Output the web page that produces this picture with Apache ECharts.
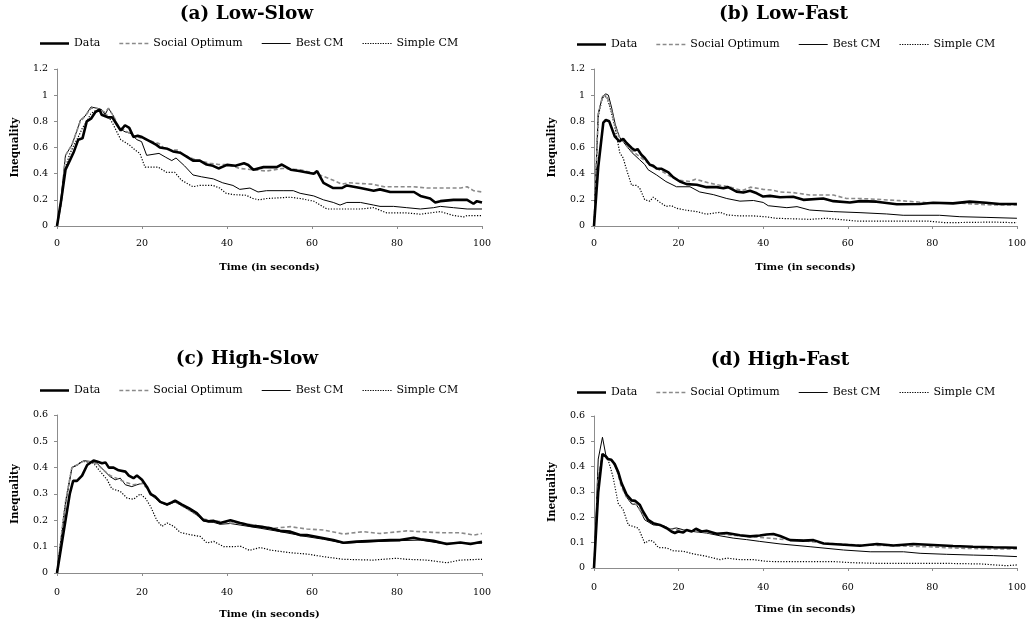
<!DOCTYPE html>
<html>
<head>
<meta charset="utf-8">
<script src="https://cdn.jsdelivr.net/npm/echarts@6/dist/echarts.min.js"></script>
<style>html,body{margin:0;padding:0;background:#fff}#c{width:1029px;height:627px}</style>
</head>
<body>
<div id="c"></div>
<script>
// ---------- DATA: [time (s), inequality] ----------
const seriesNames = ['Data', 'Social Optimum', 'Best CM', 'Simple CM'];
const panelTitles = ['(a) Low-Slow', '(b) Low-Fast', '(c) High-Slow', '(d) High-Fast'];
const xTicks = [0, 20, 40, 60, 80, 100];
const yMaxTop = 1.2, yStepTop = 0.2, yMaxBottom = 0.6, yStepBottom = 0.1;

// (a) Low-Slow
const aData = [[0,0],[1,0.2],[2,0.43],[3,0.5],[4,0.57],[5,0.66],[6,0.67],[7,0.8],[8,0.82],[9,0.87],[10,0.89],[10.5,0.85],[12,0.83],[13,0.83],[14,0.78],[15,0.73],[16,0.77],[17,0.75],[18,0.68],[19,0.69],[20,0.68],[22,0.645],[23.4,0.62],[24.2,0.6],[26,0.59],[27.3,0.57],[29,0.56],[30.5,0.53],[32,0.5],[33.6,0.5],[35.2,0.47],[36.7,0.46],[38,0.44],[40,0.467],[42,0.46],[44,0.48],[45,0.466],[46.2,0.43],[48.6,0.45],[51.7,0.45],[52.9,0.47],[55,0.43],[57,0.42],[60.4,0.40],[61.2,0.42],[62.7,0.33],[65,0.29],[67,0.29],[68.2,0.31],[71.4,0.29],[74.5,0.27],[76,0.28],[78.4,0.26],[80.7,0.26],[84,0.26],[85.5,0.23],[87.8,0.21],[89,0.18],[90.2,0.19],[93.3,0.2],[96.5,0.2],[98,0.17],[98.8,0.19],[100,0.18]];
const aSocial = [[0,0],[1,0.17],[2,0.54],[3.5,0.62],[4.7,0.73],[5.5,0.8],[6.6,0.84],[8,0.9],[9.4,0.9],[10.5,0.88],[11.3,0.87],[12.1,0.9],[13.3,0.84],[14.5,0.76],[16,0.73],[18,0.69],[20,0.67],[22,0.65],[24,0.63],[25,0.6],[27,0.58],[28.5,0.58],[30,0.54],[33,0.5],[36,0.48],[38,0.47],[40,0.47],[43,0.44],[46,0.43],[49.3,0.42],[53,0.44],[57.2,0.43],[61,0.40],[65,0.35],[67,0.32],[68.7,0.33],[74,0.32],[77,0.30],[83.9,0.30],[87,0.29],[95,0.29],[96.5,0.30],[98,0.27],[100,0.26]];
const aBest = [[0,0],[0.8,0.17],[2,0.54],[3.5,0.62],[4.7,0.73],[5.5,0.81],[6.6,0.84],[8,0.91],[9.4,0.9],[10.5,0.89],[11.3,0.85],[12.1,0.9],[13.3,0.84],[14.5,0.75],[16,0.72],[17.2,0.71],[18.8,0.66],[19.9,0.645],[21.1,0.54],[24,0.555],[25.6,0.525],[27,0.5],[28,0.52],[30,0.46],[32,0.39],[34,0.376],[36.8,0.36],[39,0.33],[41.4,0.31],[43,0.28],[45.4,0.29],[47.3,0.26],[49.3,0.27],[53.2,0.27],[55.6,0.27],[57.2,0.25],[60.4,0.23],[62.7,0.2],[65,0.18],[66.6,0.16],[68.2,0.18],[71.4,0.18],[74.5,0.16],[76,0.15],[79.2,0.15],[82.3,0.14],[85.5,0.13],[88.6,0.14],[90.2,0.15],[93.3,0.14],[96.5,0.13],[100,0.13]];
const aSimple = [[0,0],[1,0.18],[2,0.45],[3,0.55],[4,0.62],[5,0.68],[6,0.75],[7,0.8],[8,0.86],[9,0.88],[10,0.89],[11,0.87],[12,0.84],[13,0.79],[15,0.66],[17,0.62],[18.4,0.58],[19.5,0.555],[20.7,0.45],[22.6,0.45],[23.8,0.45],[25.8,0.41],[27.7,0.41],[29.3,0.35],[32,0.3],[33.6,0.31],[36.7,0.31],[38.3,0.29],[39.8,0.25],[41.4,0.24],[44.5,0.235],[46.1,0.21],[47.6,0.2],[49.3,0.21],[54.9,0.22],[57.2,0.21],[60.4,0.19],[63.5,0.13],[66.6,0.13],[71.4,0.13],[74.5,0.14],[77.6,0.1],[82.3,0.1],[85.5,0.09],[87.8,0.1],[90.2,0.11],[93.3,0.08],[95.7,0.07],[96.5,0.08],[100,0.08]];

// (b) Low-Fast
const bData = [[0,0],[1,0.45],[2.2,0.79],[2.8,0.81],[3.6,0.8],[4.9,0.685],[6,0.647],[6.9,0.667],[7.7,0.634],[8.9,0.596],[9.7,0.578],[10.3,0.588],[11.2,0.545],[12,0.52],[13.2,0.468],[14,0.46],[14.8,0.44],[16,0.437],[17.6,0.41],[18.7,0.373],[20.3,0.34],[21.9,0.32],[24.3,0.315],[26.6,0.297],[29,0.297],[30.6,0.289],[31.7,0.297],[33.7,0.263],[35.3,0.256],[36.9,0.27],[38.5,0.25],[40,0.225],[41.6,0.23],[44,0.22],[47.1,0.224],[49.5,0.2],[54.2,0.21],[56.6,0.19],[60.5,0.18],[62.9,0.19],[66.8,0.186],[71.6,0.166],[77,0.168],[80.2,0.178],[84.9,0.173],[88.8,0.186],[92.7,0.178],[95.9,0.168],[100,0.168]];
const bSocial = [[0,0],[1,0.85],[2,0.99],[3,1.0],[4,0.9],[5,0.76],[6,0.68],[7,0.645],[8,0.6],[10,0.55],[12,0.5],[14,0.45],[16,0.42],[18,0.38],[20,0.35],[22.7,0.34],[24,0.358],[27,0.33],[30,0.31],[32,0.3],[35,0.27],[37,0.297],[40,0.28],[42,0.275],[44,0.26],[47.1,0.255],[51,0.237],[56.6,0.237],[59.7,0.21],[62.9,0.21],[66.8,0.204],[72.3,0.194],[78.6,0.178],[84.9,0.178],[89.6,0.168],[94.3,0.16],[100,0.16]];
const bBest = [[0,0],[1,0.86],[2,0.99],[2.8,1.01],[3.4,1.0],[4.2,0.9],[5,0.78],[6,0.68],[7,0.64],[8,0.6],[9,0.56],[10.8,0.506],[12,0.47],[12.8,0.43],[14.8,0.39],[17,0.34],[19.5,0.3],[22.7,0.3],[25,0.26],[28.2,0.24],[31.4,0.21],[34.5,0.19],[37.7,0.195],[40,0.18],[41.2,0.155],[45.6,0.14],[48,0.148],[51,0.122],[56.6,0.11],[62.9,0.102],[69.2,0.092],[73.1,0.082],[81.7,0.082],[86.5,0.071],[92.7,0.066],[100,0.059]];
const bSimple = [[0,0],[1,0.84],[2,0.98],[3,0.99],[4,0.88],[4.9,0.76],[6.1,0.56],[6.9,0.52],[7.7,0.43],[8.9,0.31],[10,0.31],[10.8,0.29],[12,0.2],[13.2,0.19],[14,0.22],[15.2,0.19],[17,0.15],[18.3,0.156],[19.5,0.135],[21.9,0.12],[24.3,0.11],[26.6,0.09],[29.8,0.105],[31.4,0.085],[34.5,0.077],[37.7,0.077],[40.8,0.07],[43,0.059],[51,0.051],[55,0.059],[62,0.038],[70.7,0.038],[78.6,0.038],[83.3,0.025],[94.3,0.03],[100,0.025]];

// (c) High-Slow
const cData = [[0,0],[1,0.1],[2,0.2],[3,0.3],[3.8,0.35],[4.7,0.35],[5.9,0.37],[7.1,0.41],[8.6,0.427],[9.4,0.423],[10.6,0.417],[11.4,0.42],[12.2,0.4],[13.3,0.4],[14.5,0.39],[16.1,0.385],[16.9,0.37],[18,0.36],[18.8,0.37],[20,0.354],[21.2,0.326],[22,0.3],[23.1,0.29],[24.3,0.27],[25.9,0.26],[27,0.268],[27.8,0.275],[29.4,0.26],[31,0.246],[32.9,0.227],[34.5,0.2],[35.7,0.196],[36.9,0.198],[38.4,0.19],[40.8,0.2],[43.1,0.19],[45.5,0.18],[47.8,0.176],[50.2,0.17],[52.5,0.16],[54.9,0.157],[57.2,0.144],[58.8,0.144],[61.9,0.135],[65,0.125],[67.4,0.115],[70.5,0.119],[74.4,0.122],[78.4,0.125],[80.7,0.125],[83.9,0.134],[85.5,0.128],[88.6,0.122],[91.7,0.11],[94.9,0.116],[97.3,0.11],[100,0.119]];
const cSocial = [[0,0],[1,0.14],[2,0.27],[3.5,0.4],[4.7,0.41],[6.3,0.425],[7.8,0.423],[9.4,0.415],[11,0.39],[12.5,0.37],[14,0.36],[16,0.345],[18,0.335],[20,0.34],[21.6,0.316],[22.7,0.29],[24.3,0.27],[25.9,0.26],[27.8,0.27],[29.4,0.255],[31,0.24],[33,0.22],[34.5,0.205],[36,0.2],[38.4,0.195],[40.8,0.19],[43.1,0.19],[47.8,0.178],[51,0.17],[54.9,0.176],[58.8,0.167],[62.7,0.163],[67.4,0.148],[72.1,0.157],[76,0.15],[82.3,0.16],[85.4,0.157],[90.2,0.153],[94.9,0.153],[98,0.144],[100,0.15]];
const cBest = [[0,0],[1,0.13],[2,0.26],[3.5,0.4],[4.7,0.41],[6.3,0.427],[7.8,0.423],[9.4,0.417],[11,0.39],[12.5,0.366],[13.7,0.354],[14.9,0.36],[16.1,0.335],[17.6,0.328],[18.8,0.335],[20.4,0.343],[21.6,0.316],[22.7,0.29],[24.3,0.268],[25.9,0.258],[27.8,0.27],[29.4,0.255],[31,0.24],[32.9,0.22],[34.5,0.197],[36.9,0.192],[38.4,0.185],[40.8,0.188],[43.1,0.182],[47.8,0.17],[52.5,0.157],[58.8,0.138],[62.7,0.128],[67.4,0.113],[74.4,0.119],[80.7,0.123],[85.5,0.125],[90.2,0.113],[94.9,0.113],[100,0.113]];
const cSimple = [[0,0],[1,0.14],[2,0.27],[3.5,0.4],[4.7,0.41],[6,0.425],[7.5,0.42],[8.6,0.417],[10.2,0.385],[11.8,0.354],[12.9,0.32],[14.9,0.31],[16.5,0.284],[18,0.28],[19.6,0.3],[20.8,0.284],[22,0.253],[23.5,0.2],[24.7,0.177],[25.9,0.19],[27.5,0.177],[29,0.154],[31.4,0.145],[33.7,0.139],[35.3,0.114],[36.9,0.12],[39.2,0.1],[41.6,0.1],[43.1,0.102],[45.3,0.086],[47.8,0.097],[50.2,0.087],[54.9,0.077],[58.8,0.072],[62.7,0.062],[67.4,0.052],[74.4,0.049],[79.9,0.056],[82.3,0.052],[87,0.049],[91.7,0.039],[94.9,0.049],[99.6,0.052],[100,0.052]];

// (d) High-Fast
const dData = [[0,0],[1,0.3],[2,0.45],[2.8,0.44],[3.3,0.43],[4.1,0.427],[4.9,0.41],[5.7,0.38],[6.5,0.335],[7.7,0.29],[8.9,0.267],[9.7,0.265],[10.8,0.25],[11.6,0.223],[12.8,0.19],[14,0.177],[15.6,0.17],[17.2,0.157],[18.3,0.144],[19.1,0.138],[19.9,0.144],[21.1,0.14],[21.9,0.15],[23.1,0.144],[24.1,0.155],[25.4,0.144],[26.6,0.147],[29,0.135],[31.4,0.138],[34.5,0.129],[36.9,0.125],[39.2,0.128],[40.8,0.132],[42.4,0.134],[44,0.126],[46.4,0.11],[49.5,0.108],[51.9,0.11],[54.3,0.097],[58.2,0.093],[62.9,0.088],[66.9,0.095],[70.8,0.089],[75.5,0.095],[80.2,0.091],[84.9,0.087],[89.6,0.084],[94.4,0.082],[100,0.08]];
const dSocial = [[0,0],[1,0.36],[2,0.45],[2.8,0.44],[3.5,0.43],[4.5,0.42],[5.5,0.38],[6.5,0.32],[7.7,0.28],[8.9,0.26],[10,0.25],[12,0.2],[14,0.175],[16.4,0.165],[18,0.155],[20,0.15],[22,0.147],[24,0.145],[26.6,0.14],[29.8,0.135],[32.9,0.129],[36.1,0.125],[39.2,0.121],[44,0.114],[49.5,0.108],[54.8,0.097],[62.9,0.091],[70.8,0.088],[78.6,0.084],[86.5,0.078],[94.4,0.075],[100,0.075]];
const dBest = [[0,0],[1,0.43],[2,0.516],[2.8,0.446],[3.5,0.43],[4.3,0.425],[5,0.4],[6,0.36],[7,0.305],[7.7,0.28],[8.9,0.253],[10,0.25],[11,0.225],[12,0.19],[14,0.17],[16.4,0.167],[18,0.154],[19.5,0.158],[21.1,0.151],[23.4,0.144],[26.6,0.138],[29.8,0.127],[32.9,0.118],[36.1,0.112],[39.2,0.105],[44,0.095],[51.1,0.084],[59,0.071],[65.3,0.064],[73.2,0.064],[77.1,0.058],[83.4,0.054],[89.7,0.051],[94.4,0.049],[100,0.045]];
const dSimple = [[0,0],[1,0.35],[2,0.446],[3.3,0.43],[4.5,0.36],[5.7,0.256],[6.9,0.23],[8.1,0.17],[9.3,0.164],[10.5,0.157],[12,0.098],[13.2,0.11],[14,0.105],[15.2,0.081],[17.2,0.079],[18.7,0.068],[21.1,0.066],[23.4,0.056],[26.6,0.046],[29.8,0.033],[31.4,0.039],[34.5,0.033],[37.7,0.033],[40.8,0.026],[44,0.025],[52,0.025],[57,0.025],[61,0.021],[68,0.018],[76,0.018],[84,0.018],[91.5,0.016],[97.5,0.009],[100,0.012]];

// ---------- CHART ----------
const FONT = '"DejaVu Serif", "Liberation Serif", serif';
const panels = [
  {title: panelTitles[0], series: [aData, aSocial, aBest, aSimple], ymax: yMaxTop, step: yStepTop,
   grid: {left: 57, top: 69, width: 425, height: 157}, titlePos: [246.5, 14], legendPos: [40, 38], labelMargin: 13},
  {title: panelTitles[1], series: [bData, bSocial, bBest, bSimple], ymax: yMaxTop, step: yStepTop,
   grid: {left: 594, top: 69, width: 423, height: 157}, titlePos: [783.5, 14], legendPos: [577, 39], labelMargin: 13},
  {title: panelTitles[2], series: [cData, cSocial, cBest, cSimple], ymax: yMaxBottom, step: yStepBottom,
   grid: {left: 57, top: 415, width: 425, height: 158}, titlePos: [247, 359], legendPos: [40, 385], labelMargin: 15},
  {title: panelTitles[3], series: [dData, dSocial, dBest, dSimple], ymax: yMaxBottom, step: yStepBottom,
   grid: {left: 594, top: 416, width: 423, height: 152}, titlePos: [780, 360], legendPos: [577, 387], labelMargin: 15}
];

const lineStyles = [
  {color: '#000', width: 2.6, type: 'solid'},
  {color: '#8a8a8a', width: 1.6, type: [4, 2.5]},
  {color: '#000', width: 1, type: 'solid'},
  {color: '#000', width: 1.2, type: [1.2, 1.6]}
];

// legend glyphs (drawn as path icons, 30px wide)
function dashPath(dash, gap, h, total) {
  let s = '', x = 0;
  while (x + dash <= total + 0.01) { s += 'M' + x + ' 0h' + dash + 'v' + h + 'h-' + dash + 'Z'; x += dash + gap; }
  return 'path://' + s;
}
const legendIcons = [
  'path://M0 0H30V2.6H0Z',
  dashPath(4, 2.5, 1.5, 30),
  'path://M0 0H30V1H0Z',
  dashPath(1.3, 1.3, 1.1, 30)
];

const option = {
  backgroundColor: '#fff',
  animation: false,
  textStyle: {fontFamily: FONT, color: '#000'},
  grid: [], xAxis: [], yAxis: [], series: [], legend: [], graphic: []
};

panels.forEach((p, i) => {
  option.grid.push(Object.assign({containLabel: false}, p.grid));
  option.xAxis.push({
    type: 'value', gridIndex: i, min: xTicks[0], max: xTicks[xTicks.length - 1], interval: xTicks[1] - xTicks[0],
    name: 'Time (in seconds)', nameLocation: 'middle', nameGap: 36,
    nameTextStyle: {fontFamily: FONT, fontWeight: 'bold', fontSize: 10, color: '#000'},
    axisLine: {lineStyle: {color: '#8c8c8c', width: 1}},
    axisTick: {show: true, length: 3, lineStyle: {color: '#8c8c8c'}},
    axisLabel: {fontFamily: FONT, fontSize: 9.5, color: '#000', margin: p.labelMargin},
    splitLine: {show: false}
  });
  option.yAxis.push({
    type: 'value', gridIndex: i, min: 0, max: p.ymax, interval: p.step,
    name: 'Inequality', nameLocation: 'middle', nameGap: 36,
    nameTextStyle: {fontFamily: FONT, fontWeight: 'bold', fontSize: 10.5, color: '#000'},
    axisLine: {show: true, lineStyle: {color: '#8c8c8c', width: 1}},
    axisTick: {show: true, length: 3, lineStyle: {color: '#8c8c8c'}},
    axisLabel: {fontFamily: FONT, fontSize: 9.5, color: '#000', margin: 9,
      formatter: v => String(+v.toFixed(2))},
    splitLine: {show: false}
  });
  p.series.forEach((d, k) => {
    option.series.push({
      name: seriesNames[k], type: 'line', xAxisIndex: i, yAxisIndex: i, data: d,
      showSymbol: false, symbol: 'none', smooth: false,
      lineStyle: lineStyles[k], itemStyle: {color: lineStyles[k].color},
      z: 10 - k
    });
  });
  option.legend.push({
    left: p.legendPos[0], top: p.legendPos[1], orient: 'horizontal', padding: 0,
    data: seriesNames.map((n, k) => ({
      name: n, icon: legendIcons[k],
      itemStyle: {color: lineStyles[k].color, borderWidth: 0}
    })),
    itemWidth: 29, itemHeight: 12, itemGap: 19, symbolKeepAspect: true,
    textStyle: {fontFamily: FONT, fontSize: 11, color: '#000'},
    selectedMode: false
  });
  option.graphic.push({
    type: 'text', x: p.titlePos[0], y: p.titlePos[1],
    style: {text: p.title, font: 'bold 18.5px ' + FONT, fill: '#000', align: 'center', verticalAlign: 'middle',
            textAlign: 'center', textVerticalAlign: 'middle'}
  });
});

const chart = echarts.init(document.getElementById('c'), null, {renderer: 'canvas'});
chart.setOption(option);
</script>
</body>
</html>
